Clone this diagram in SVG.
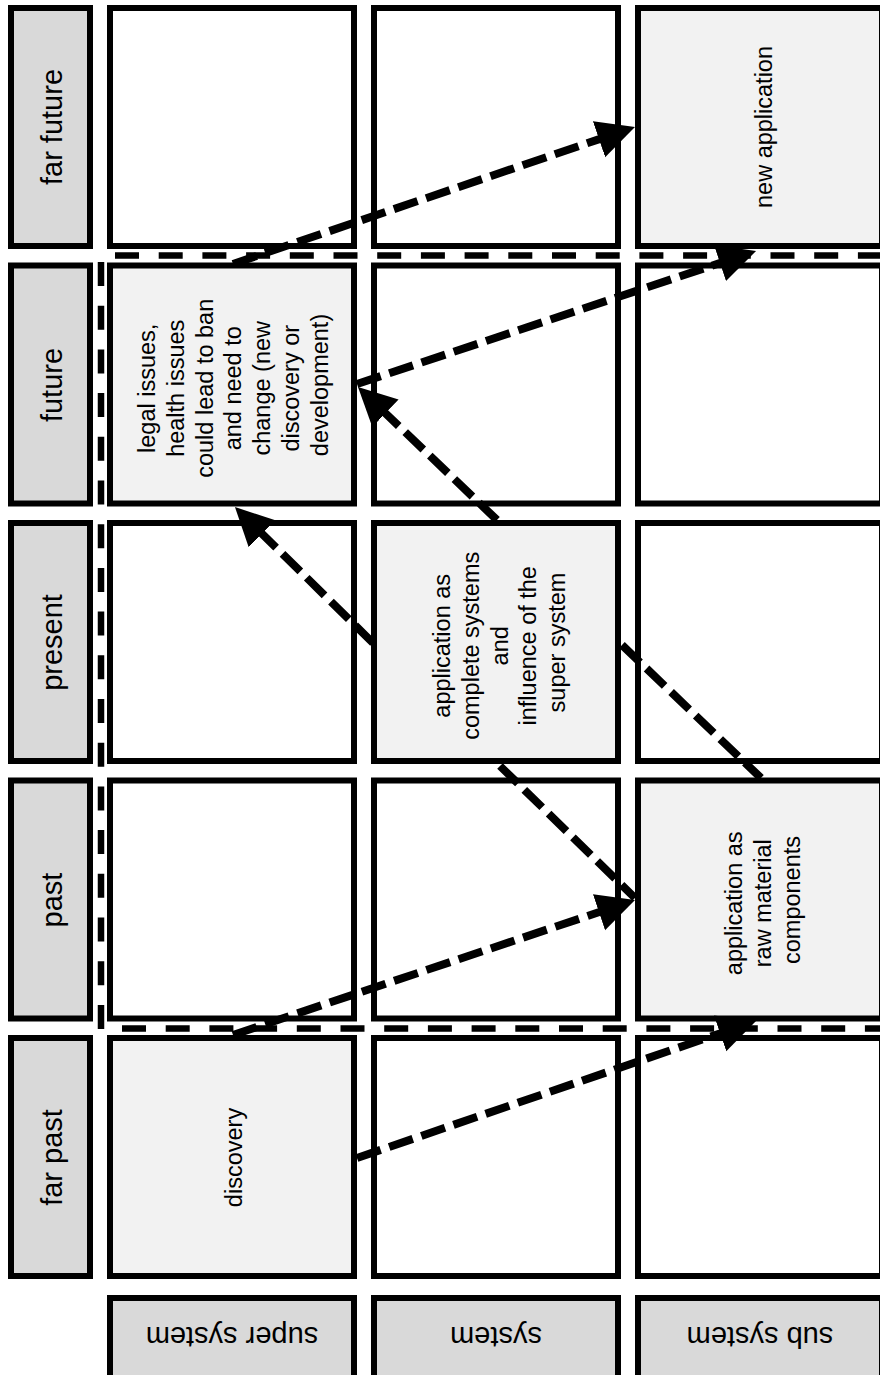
<svg xmlns="http://www.w3.org/2000/svg" width="880" height="1375" viewBox="0 0 880 1375">
<style>
  .hdr { fill: #d9d9d9; stroke: #000; stroke-width: 6; }
  .cell { fill: #ffffff; stroke: #000; stroke-width: 6; }
  .hl { fill: #f2f2f2; stroke: #000; stroke-width: 6; }
  .sep { stroke: #000; stroke-width: 6.5; stroke-dasharray: 24 19.7; fill: none; }
  .con { stroke: #000; stroke-width: 8; stroke-dasharray: 25 9; fill: none; }
  .ht { font-family: "Liberation Sans", Arial, sans-serif; font-size: 29px; fill: #000; text-anchor: middle; }
  .ct { font-family: "Liberation Sans", Arial, sans-serif; font-size: 23.5px; fill: #000; text-anchor: middle; }
</style>
<defs>
  <marker id="arr" markerUnits="userSpaceOnUse" markerWidth="40" markerHeight="40" refX="2" refY="19" orient="auto">
    <path d="M0,0 L38,19 L0,38 Z" fill="#000"/>
  </marker>
</defs>
<rect width="880" height="1375" fill="#ffffff"/>

<!-- time headers -->
<g id="h-far-future"><rect class="hdr" x="11" y="8" width="79" height="238"/><text class="ht" transform="rotate(-90)" x="-127" y="62">far future</text></g>
<g id="h-future"><rect class="hdr" x="11" y="265.5" width="79" height="238"/><text class="ht" transform="rotate(-90)" x="-385" y="62">future</text></g>
<g id="h-present"><rect class="hdr" x="11" y="523" width="79" height="238"/><text class="ht" transform="rotate(-90)" x="-642.5" y="62">present</text></g>
<g id="h-past"><rect class="hdr" x="11" y="780.5" width="79" height="238"/><text class="ht" transform="rotate(-90)" x="-900" y="62">past</text></g>
<g id="h-far-past"><rect class="hdr" x="11" y="1038" width="79" height="238"/><text class="ht" transform="rotate(-90)" x="-1157.5" y="62">far past</text></g>

<!-- level headers (upside down) -->
<g id="l-super"><rect class="hdr" x="110" y="1298" width="244" height="120"/><text class="ht" transform="rotate(180)" x="-232" y="-1327">super system</text></g>
<g id="l-system"><rect class="hdr" x="374" y="1298" width="244" height="120"/><text class="ht" transform="rotate(180)" x="-496" y="-1327">system</text></g>
<g id="l-sub"><rect class="hdr" x="638" y="1298" width="244" height="120"/><text class="ht" transform="rotate(180)" x="-760" y="-1327">sub system</text></g>

<!-- far future row -->
<g id="c-ff-super"><rect class="cell" x="110" y="8" width="244" height="238"/></g>
<g id="c-ff-system"><rect class="cell" x="374" y="8" width="244" height="238"/></g>
<g id="c-ff-sub"><rect class="hl" x="638" y="8" width="244" height="238"/><text class="ct" transform="rotate(-90)" x="-127" y="772">new application</text></g>

<!-- future row -->
<g id="c-fu-super"><rect class="hl" x="110" y="265.5" width="244" height="238"/>
  <text class="ct" transform="rotate(-90)">
    <tspan x="-385" y="155">legal issues,</tspan>
    <tspan x="-385" y="183.8">health issues</tspan>
    <tspan x="-385" y="212.6">could lead to ban</tspan>
    <tspan x="-385" y="241.4">and need to</tspan>
    <tspan x="-385" y="270.2">change (new</tspan>
    <tspan x="-385" y="299">discovery or</tspan>
    <tspan x="-385" y="327.8">development)</tspan>
  </text>
</g>
<g id="c-fu-system"><rect class="cell" x="374" y="265.5" width="244" height="238"/></g>
<g id="c-fu-sub"><rect class="cell" x="638" y="265.5" width="244" height="238"/></g>

<!-- present row -->
<g id="c-pr-super"><rect class="cell" x="110" y="523" width="244" height="238"/></g>
<g id="c-pr-system"><rect class="hl" x="374" y="523" width="244" height="238"/>
  <text class="ct" transform="rotate(-90)">
    <tspan x="-642.5" y="450">application as</tspan>
    <tspan x="-642.5" y="478.8">complete systems</tspan>
    <tspan x="-642.5" y="507.6">and</tspan>
    <tspan x="-642.5" y="536.4">influence of the</tspan>
    <tspan x="-642.5" y="565.2">super system</tspan>
  </text>
</g>
<g id="c-pr-sub"><rect class="cell" x="638" y="523" width="244" height="238"/></g>

<!-- past row -->
<g id="c-pa-super"><rect class="cell" x="110" y="780.5" width="244" height="238"/></g>
<g id="c-pa-system"><rect class="cell" x="374" y="780.5" width="244" height="238"/></g>
<g id="c-pa-sub"><rect class="hl" x="638" y="780.5" width="244" height="238"/>
  <text class="ct" transform="rotate(-90)">
    <tspan x="-900" y="742">application as</tspan>
    <tspan x="-900" y="770.8">raw material</tspan>
    <tspan x="-900" y="799.6">components</tspan>
  </text>
</g>

<!-- far past row -->
<g id="c-fp-super"><rect class="hl" x="110" y="1038" width="244" height="238"/><text class="ct" transform="rotate(-90)" x="-1157.5" y="242">discovery</text></g>
<g id="c-fp-system"><rect class="cell" x="374" y="1038" width="244" height="238"/></g>
<g id="c-fp-sub"><rect class="cell" x="638" y="1038" width="244" height="238"/></g>

<!-- separators -->
<g id="separators">
  <line class="sep" x1="115" y1="255.5" x2="890" y2="255.5"/>
  <line class="sep" x1="122" y1="1028.5" x2="890" y2="1028.5"/>
  <line class="sep" x1="101" y1="262" x2="101" y2="1031"/>
</g>

<!-- connectors -->
<g id="connectors">
  <path class="con" d="M357,384 L721.9,262.4" marker-end="url(#arr)"/>
  <path class="con" d="M233,264 L600.9,138.6" marker-end="url(#arr)"/>
  <path class="con" d="M357,1158 L722,1032.7" marker-end="url(#arr)"/>
  <path class="con" d="M233,1035 L600.9,911.5" marker-end="url(#arr)"/>
  <path class="con" d="M373,643 L260.6,532.3" marker-end="url(#arr)"/>
  <path class="con" d="M497,520 L384,411.9" marker-end="url(#arr)"/>
  <path class="con" d="M500,766 L635,898"/>
  <path class="con" d="M622,645 L761,778"/>
</g>
</svg>
